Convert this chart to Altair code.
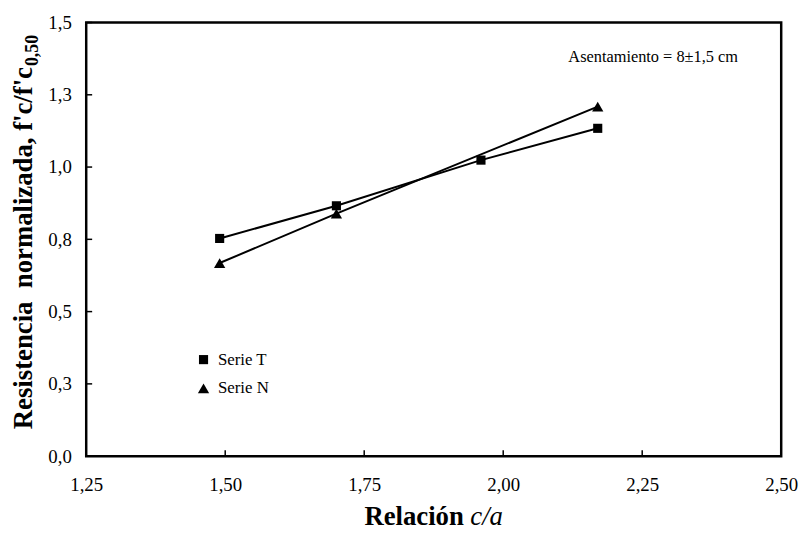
import altair as alt
import pandas as pd

# ---- data ----
series_names = ["Serie T", "Serie N"]
x_T = [1.49, 1.70, 1.96, 2.17]
y_T = [0.753, 0.866, 1.024, 1.134]
x_N = [1.49, 1.70, 2.17]
y_N = [0.668, 0.839, 1.209]
marker_sizes = [85, 130]
x_ticks = [1.25, 1.50, 1.75, 2.00, 2.25, 2.50]
y_ticks = [0.0, 0.25, 0.50, 0.75, 1.00, 1.25, 1.50]
y_title_main = ["Resistencia\u00a0 normalizada, f'c/f'c"]
y_title_sub = ["0,50"]
x_title_main = ["Relación"]
x_title_ital = ["c/a"]
note_text = ["Asentamiento = 8±1,5 cm"]

FONT = "Liberation Serif"
W, H = 702, 438

df = pd.DataFrame({
    "x": x_T + x_N,
    "y": y_T + y_N,
    "serie": [series_names[0]] * len(x_T) + [series_names[1]] * len(x_N),
})

xs = alt.Scale(domain=[1.25, 2.5], nice=False, zero=False)
ys = alt.Scale(domain=[0, 1.5], nice=False, zero=False)

x_axis = alt.Axis(values=x_ticks, labelExpr="replace(format(datum.value, '.2f'), '.', ',')",
                  domain=False, ticks=False, grid=False, labelFont=FONT, labelFontSize=19,
                  labelColor="black", labelPadding=20, title=None, labelFlush=False)
y_axis = alt.Axis(values=y_ticks, labelExpr="replace(format(datum.value, '.1f'), '.', ',')",
                  domain=False, ticks=False, grid=False, labelFont=FONT, labelFontSize=19,
                  labelColor="black", labelPadding=15, title=None, labelFlush=False)

X = alt.X("x:Q", scale=xs, axis=x_axis)
Y = alt.Y("y:Q", scale=ys, axis=y_axis)

lines = alt.Chart(df).mark_line(color="black", strokeWidth=2).encode(
    x=X, y=Y, detail="serie:N")

leg = alt.Legend(title=None, orient="none", legendX=110, legendY=332,
                 labelFont=FONT, labelFontSize=17, labelColor="black",
                 symbolFillColor="black", symbolStrokeColor="black",
                 rowPadding=11, padding=0, labelOffset=6)

points = alt.Chart(df).mark_point(filled=True, opacity=1, color="black").encode(
    x=X, y=Y,
    shape=alt.Shape("serie:N",
                    scale=alt.Scale(domain=series_names, range=["square", "triangle-up"]),
                    legend=leg),
    size=alt.Size("serie:N", scale=alt.Scale(domain=series_names, range=marker_sizes),
                  legend=leg))

xt = alt.Chart(pd.DataFrame({"x": x_ticks})).mark_rule(color="black", strokeWidth=1.5).encode(
    x=X, y=alt.value(H), y2=alt.value(H - 6))
yt = alt.Chart(pd.DataFrame({"y": y_ticks})).mark_rule(color="black", strokeWidth=1.5).encode(
    y=Y, x=alt.value(0), x2=alt.value(6))

def txt(lst, **kw):
    return alt.Chart(pd.DataFrame({"t": lst})).mark_text(font=FONT, color="black", **kw)

ytitle = txt(y_title_main, fontSize=27, fontWeight="bold", angle=270, align="right",
             baseline="alphabetic").encode(text="t:N", x=alt.value(-55), y=alt.value(45))
ysub = txt(y_title_sub, fontSize=18, fontWeight="bold", angle=270, align="left",
           baseline="alphabetic").encode(text="t:N", x=alt.value(-49), y=alt.value(44))
xtitle = txt(x_title_main, fontSize=27, fontWeight="bold", align="left",
             baseline="alphabetic").encode(text="t:N", x=alt.value(281), y=alt.value(508))
xital = txt(x_title_ital, fontSize=27, fontStyle="italic", align="left",
            baseline="alphabetic").encode(text="t:N", x=alt.value(388), y=alt.value(508))
note = txt(note_text, fontSize=16.5, align="left", baseline="middle").encode(
    text="t:N", x=alt.value(487), y=alt.value(35))

chart = alt.layer(xt, yt, lines, points, ytitle, ysub, xtitle, xital, note).properties(
    width=W, height=H,
    autosize=alt.AutoSizeParams(type="none"),
    padding={"left": 79, "top": 12, "right": 20, "bottom": 78},
    background="white",
).configure_view(stroke="black", strokeWidth=2.5)

chart.save("out.html", embed_options={"renderer": "svg", "actions": False})
